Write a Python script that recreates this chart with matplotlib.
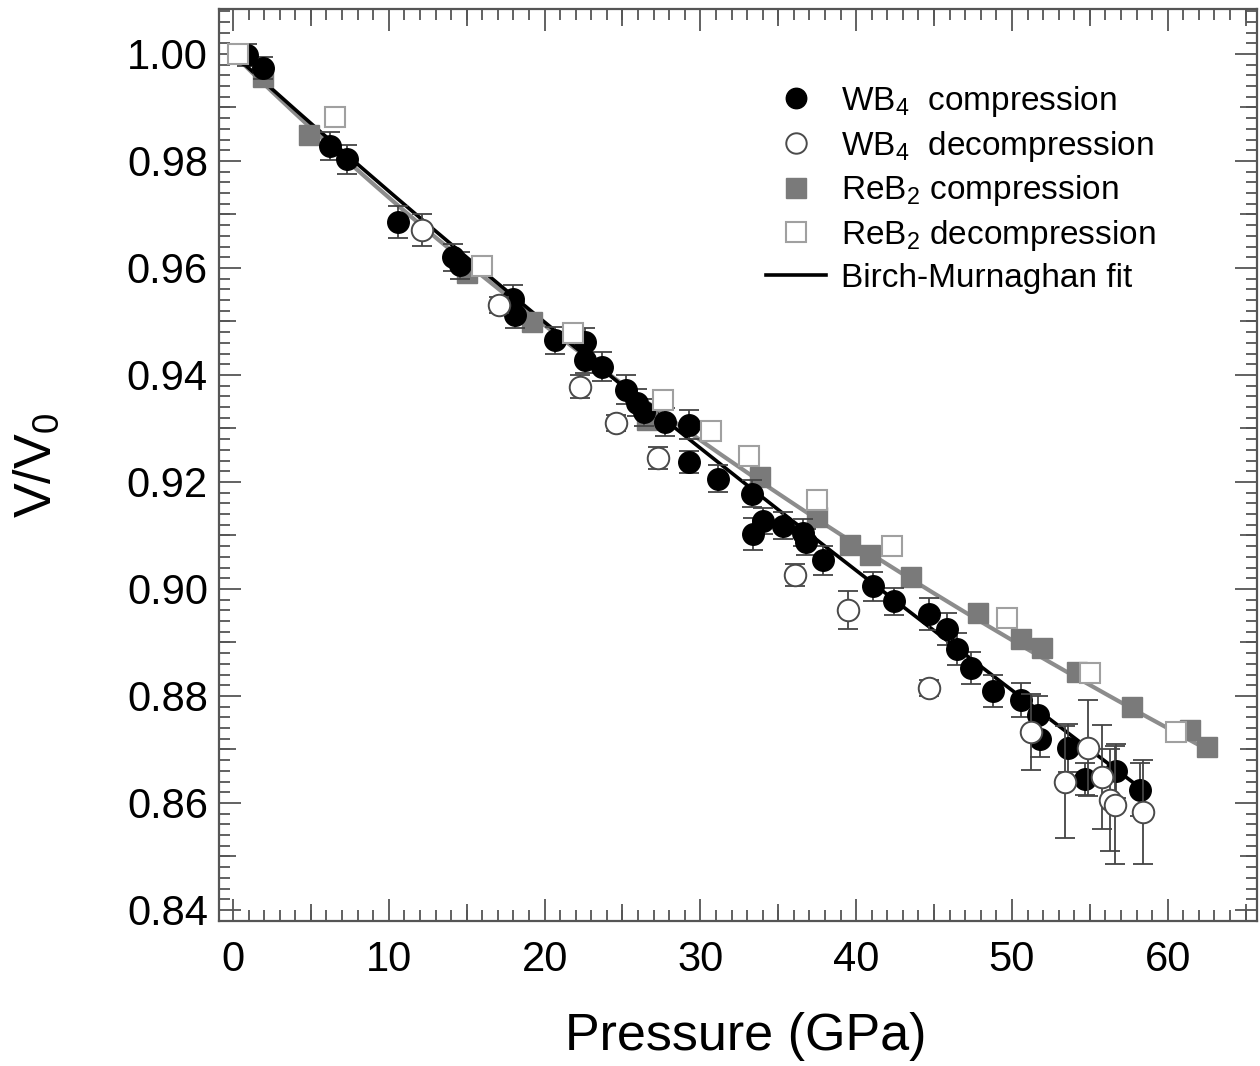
import numpy as np
import matplotlib
matplotlib.use("Agg")
import matplotlib.pyplot as plt
from matplotlib.ticker import MultipleLocator, FixedLocator, FormatStrFormatter

plt.rcParams["font.family"] = ["Liberation Sans", "DejaVu Sans"]
plt.rcParams["mathtext.fontset"] = "custom"
plt.rcParams["mathtext.rm"] = "Liberation Sans"
plt.rcParams["mathtext.it"] = "Liberation Sans:italic"
plt.rcParams["mathtext.bf"] = "Liberation Sans:bold"
plt.rcParams["mathtext.default"] = "regular"

# ---- WB4, compression run: pressure (GPa), V/V0, uncertainty ----
wb4_comp_p = [0.9, 1.9, 6.2, 7.3, 10.6, 14.1, 14.6, 18.0, 18.1, 20.7, 22.6, 22.6,
              23.7, 25.2, 25.9, 26.4, 27.7, 29.3, 29.3, 31.1, 33.3, 34.0, 33.4,
              35.3, 36.6, 36.8, 37.9, 41.1, 42.4, 44.7, 45.8, 46.5, 47.4, 48.8,
              50.6, 51.7, 51.8, 53.6, 54.7, 56.7, 58.2]
wb4_comp_v = [0.9998, 0.9974, 0.9828, 0.9803, 0.9686, 0.9620, 0.9605, 0.9542,
              0.9512, 0.9465, 0.9461, 0.9428, 0.9415, 0.9372, 0.9348, 0.9330,
              0.9312, 0.9307, 0.9237, 0.9206, 0.9178, 0.9127, 0.9103, 0.9118,
              0.9105, 0.9088, 0.9054, 0.9005, 0.8977, 0.8953, 0.8925, 0.8887,
              0.8853, 0.8810, 0.8792, 0.8765, 0.8720, 0.8702, 0.8645, 0.8660,
              0.8625]
wb4_comp_err = [0.0020, 0.0020, 0.0027, 0.0027, 0.0030, 0.0025, 0.0025, 0.0027,
                0.0025, 0.0025, 0.0027, 0.0025, 0.0027, 0.0027, 0.0025, 0.0025,
                0.0027, 0.0027, 0.0020, 0.0025, 0.0025, 0.0025, 0.0030, 0.0025,
                0.0025, 0.0025, 0.0027, 0.0027, 0.0025, 0.0030, 0.0030, 0.0030,
                0.0030, 0.0030, 0.0032, 0.0035, 0.0035, 0.0045, 0.0030, 0.0050,
                0.0050]

# ---- WB4, decompression run ----
wb4_decomp_p = [12.1, 17.1, 22.3, 24.6, 27.3, 36.1, 39.5, 44.7, 51.2, 53.4, 54.9,
                55.8, 56.3, 56.6, 58.4]
wb4_decomp_v = [0.9671, 0.9530, 0.9378, 0.9310, 0.9245, 0.9026, 0.8961, 0.8815,
                0.8733, 0.8639, 0.8703, 0.8649, 0.8606, 0.8596, 0.8583]
wb4_decomp_err = [0.0030, 0.0015, 0.0021, 0.0015, 0.0021, 0.0021, 0.0036, 0.0015,
                  0.0071, 0.0105, 0.0090, 0.0097, 0.0095, 0.0110, 0.0097]

# ---- ReB2, compression run ----
reb2_comp_p = [1.9, 4.9, 15.0, 19.2, 26.6, 33.8, 37.5, 39.6, 40.9, 43.5, 47.8,
               50.6, 51.9, 54.2, 57.7, 61.4, 62.5]
reb2_comp_v = [0.9957, 0.9849, 0.9590, 0.9499, 0.9316, 0.9209, 0.9135, 0.9082,
               0.9064, 0.9022, 0.8955, 0.8906, 0.8890, 0.8845, 0.8779, 0.8736,
               0.8705]

# ---- ReB2, decompression run ----
reb2_decomp_p = [0.3, 6.55, 16.0, 21.8, 27.6, 30.7, 33.1, 37.5, 42.3, 49.7, 55.0,
                 60.5]
reb2_decomp_v = [1.0000, 0.9882, 0.9603, 0.9478, 0.9353, 0.9295, 0.9248, 0.9166,
                 0.9080, 0.8946, 0.8843, 0.8733]

# ---- Third-order Birch-Murnaghan parameters (K0 in GPa, K0') ----
wb4_K0, wb4_K0p, wb4_pmax = 380.0, 1.07, 58.4
reb2_K0, reb2_K0p, reb2_pmax = 350.0, 3.6, 62.5

x_ticks = [0, 10, 20, 30, 40, 50, 60]
y_ticks = [0.84, 0.86, 0.88, 0.90, 0.92, 0.94, 0.96, 0.98, 1.00]


def birch_murnaghan(K0, K0p, pmax):
    v = np.linspace(1.0, 0.80, 4000)
    f = (v ** (-2.0 / 3.0) - 1.0) / 2.0
    p = 3.0 * K0 * f * (1 + 2 * f) ** 2.5 * (1 + 1.5 * (K0p - 4.0) * f)
    keep = p <= pmax
    return p[keep], v[keep]


fig = plt.figure(figsize=(12.6, 10.66), dpi=100)
ax = fig.add_axes([219 / 1260, 1 - 921 / 1066, (1257 - 219) / 1260, (921 - 9) / 1066])

spine_col = "#555555"
err_col = "#444444"
ms = 15.5

# fit curves
p_fit, v_fit = birch_murnaghan(reb2_K0, reb2_K0p, reb2_pmax)
ax.plot(p_fit, v_fit, color="#8c8c8c", lw=3.0, zorder=1)
p_fit, v_fit = birch_murnaghan(wb4_K0, wb4_K0p, wb4_pmax)
fit_line, = ax.plot(p_fit, v_fit, color="black", lw=2.6, zorder=2,
                    label="Birch-Murnaghan fit")

# ReB2 compression
h_rc, = ax.plot(reb2_comp_p, reb2_comp_v, ls="none", marker="s", ms=ms - 1,
                mfc="#7a7a7a", mec="#7a7a7a", mew=1.0, zorder=3,
                label="ReB$_2$ compression")

# WB4 compression
ax.errorbar(wb4_comp_p, wb4_comp_v, yerr=wb4_comp_err, fmt="none",
            ecolor=err_col, elinewidth=1.3, capsize=7, capthick=1.3, zorder=3.5)
h_wc, = ax.plot(wb4_comp_p, wb4_comp_v, ls="none", marker="o", ms=ms,
                mfc="black", mec="black", zorder=4,
                label="WB$_4$  compression")

# WB4 decompression
ax.errorbar(wb4_decomp_p, wb4_decomp_v, yerr=wb4_decomp_err, fmt="none",
            ecolor=err_col, elinewidth=1.3, capsize=7, capthick=1.3, zorder=4.5)
h_wd, = ax.plot(wb4_decomp_p, wb4_decomp_v, ls="none", marker="o", ms=ms,
                mfc="white", mec="#4a4a4a", mew=1.4, zorder=5,
                label="WB$_4$  decompression")

# ReB2 decompression
h_rd, = ax.plot(reb2_decomp_p, reb2_decomp_v, ls="none", marker="s", ms=ms - 1,
                mfc="white", mec="#a0a0a0", mew=1.5, zorder=5,
                label="ReB$_2$ decompression")

ax.set_xlim(-0.9, 65.73)
ax.set_ylim(0.83794, 1.0084)

ax.xaxis.set_major_locator(FixedLocator(x_ticks))
ax.xaxis.set_minor_locator(MultipleLocator(1))
ax.yaxis.set_major_locator(FixedLocator(y_ticks))
ax.yaxis.set_minor_locator(MultipleLocator(0.002))
ax.yaxis.set_major_formatter(FormatStrFormatter("%.2f"))

for s in ax.spines.values():
    s.set_color(spine_col)
    s.set_linewidth(1.6)

ax.tick_params(which="both", direction="in", top=True, right=True,
               color=spine_col, width=1.3)
ax.tick_params(which="major", length=16)
ax.tick_params(which="minor", length=8)
ax.tick_params(axis="x", which="major", labelsize=30, pad=14)
ax.tick_params(axis="y", which="major", labelsize=30, pad=8)

# intermediate ticks at the half-decade positions
mid_x = [5, 15, 25, 35, 45, 55, 65]
mid_y = [0.85, 0.87, 0.89, 0.91, 0.93, 0.95, 0.97, 0.99]
for loc in ("bottom", "top"):
    sec = ax.secondary_xaxis(loc)
    sec.set_xticks(mid_x)
    sec.tick_params(direction="in", length=12, width=1.3, color=spine_col,
                    labelbottom=False, labeltop=False)
    for s in sec.spines.values():
        s.set_visible(False)
for loc in ("left", "right"):
    sec = ax.secondary_yaxis(loc)
    sec.set_yticks(mid_y)
    sec.tick_params(direction="in", length=12, width=1.3, color=spine_col,
                    labelleft=False, labelright=False)
    for s in sec.spines.values():
        s.set_visible(False)

ax.set_xlabel("Pressure (GPa)", fontsize=37.5)
ax.xaxis.set_label_coords(0.5 + 8 / 1038, -0.1)
ax.set_ylabel("V/V$_0$", fontsize=37.5, labelpad=47)

leg = ax.legend(handles=[h_wc, h_wd, h_rc, h_rd, fit_line],
                loc="upper left", bbox_to_anchor=(766 / 1260, 1 - 84 / 1066),
                bbox_transform=fig.transFigure, frameon=False, fontsize=24,
                handlelength=1.8, handletextpad=0.45, labelspacing=0.29,
                borderpad=0, borderaxespad=0, markerscale=0.95)

fig.savefig("out.png", dpi=100, facecolor="white")
